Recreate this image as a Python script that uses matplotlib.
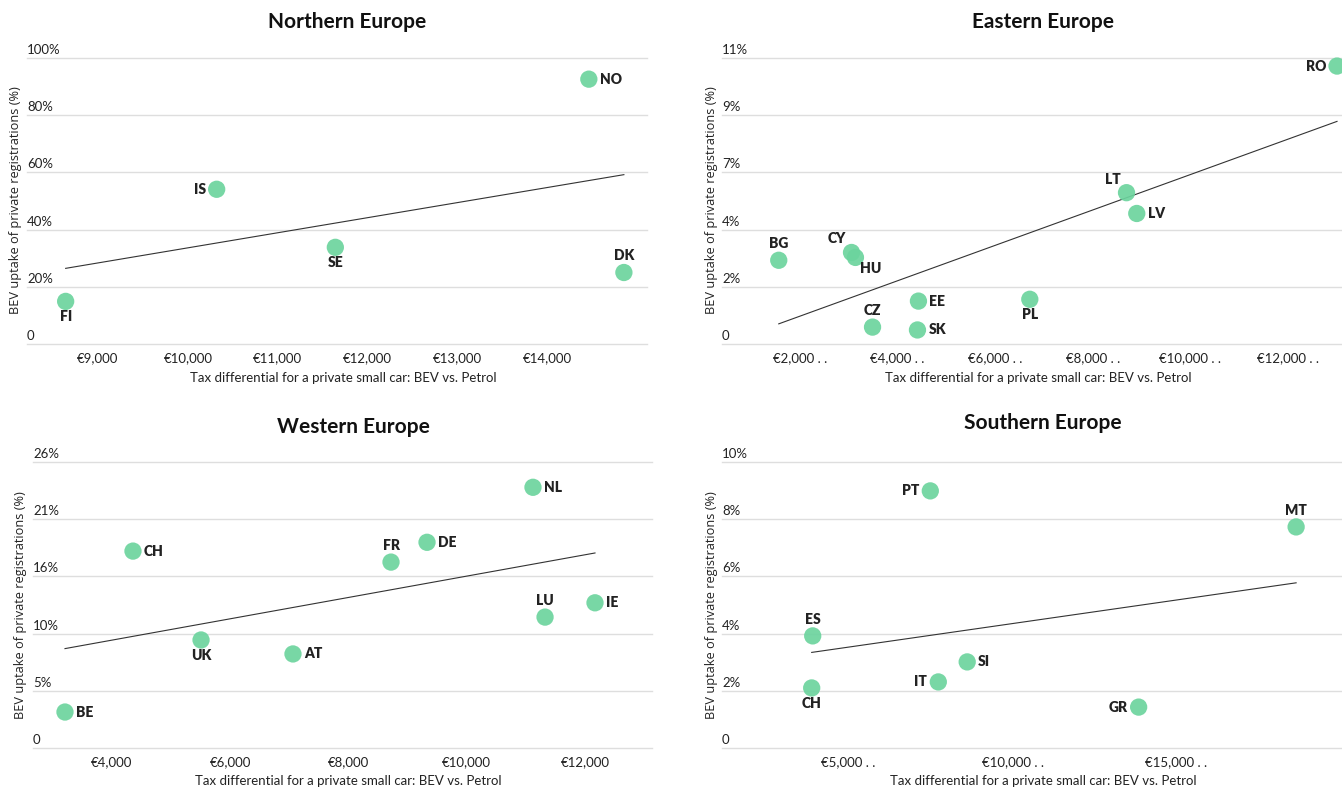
import matplotlib
matplotlib.use('Agg')
import matplotlib.pyplot as plt
import numpy as np
from matplotlib.transforms import blended_transform_factory

# ---------------- data ----------------
north_codes = ['FI', 'IS', 'SE', 'NO', 'DK']
north_tax = [8640, 10320, 11640, 14460, 14850]
north_bev = [14.9, 54.1, 33.8, 92.6, 25.0]
north_yticks = [0, 20, 40, 60, 80, 100]
north_ylabels = ['0', '20%', '40%', '60%', '80%', '100%']
north_xticks = [9000, 10000, 11000, 12000, 13000, 14000]
north_xlabels = ['€9,000', '€10,000', '€11,000', '€12,000', '€13,000', '€14,000']

east_codes = ['BG', 'CY', 'HU', 'CZ', 'EE', 'SK', 'PL', 'LT', 'LV', 'RO']
east_tax = [1570, 3060, 3140, 3490, 4430, 4410, 6710, 8690, 8900, 13000]
east_bev = [3.22, 3.52, 3.33, 0.65, 1.65, 0.54, 1.72, 5.82, 5.02, 10.69]
east_yticks = [0, 2.2, 4.4, 6.6, 8.8, 11]
east_ylabels = ['0', '2%', '4%', '7%', '9%', '11%']
east_xticks = [2000, 4000, 6000, 8000, 10000, 12000]
east_xlabels = ['€2,000 . .', '€4,000 . .', '€6,000 . .', '€8,000 . .', '€10,000 . .', '€12,000 . .']

west_codes = ['BE', 'CH', 'UK', 'AT', 'FR', 'DE', 'NL', 'LU', 'IE']
west_tax = [3205, 4355, 5506, 7061, 8719, 9328, 11120, 11324, 12169]
west_bev = [3.27, 17.9, 9.82, 8.55, 16.9, 18.7, 23.7, 11.9, 13.2]
west_yticks = [0, 5.2, 10.4, 15.6, 20.8, 26]
west_ylabels = ['0', '5%', '10%', '16%', '21%', '26%']
west_xticks = [4000, 6000, 8000, 10000, 12000]
west_xlabels = ['€4,000', '€6,000', '€8,000', '€10,000', '€12,000']

south_codes = ['PT', 'MT', 'ES', 'SI', 'IT', 'CH', 'GR']
south_tax = [7492, 18647, 3906, 8617, 7736, 3875, 13845]
south_bev = [8.99, 7.73, 3.92, 3.01, 2.31, 2.10, 1.43]
south_yticks = [0, 2, 4, 6, 8, 10]
south_ylabels = ['0', '2%', '4%', '6%', '8%', '10%']
south_xticks = [5000, 10000, 15000]
south_xlabels = ['€5,000 . .', '€10,000 . .', '€15,000 . .']

x_title = 'Tax differential for a private small car: BEV vs. Petrol'
y_title = 'BEV uptake of private registrations (%)'

# label placement (style, not data)
north_pos = ['b', 'l', 'b', 'r', 't']
east_pos = ['t', 'tl', 'br', 't', 'r', 'r', 'b', 'tl', 'r', 'l']
west_pos = ['r', 'r', 'b', 'r', 't', 'r', 'r', 't', 'r']
south_pos = ['l', 't', 't', 'r', 'l', 'b', 'l']

# ---------------- styling ----------------
W, H = 1342, 790
fig = plt.figure(figsize=(W / 100, H / 100), dpi=100)
fig.patch.set_facecolor('white')

GREEN = '#6cd49e'
TXT = '#222222'
GRID = '#dedede'
TICKFONT = 'Lato'

offsets = {
    'r': (11, 0, 'left', 'center'),
    'l': (-11, 0, 'right', 'center'),
    't': (0, 10, 'center', 'bottom'),
    'b': (0, -9, 'center', 'top'),
    'tl': (-6, 7, 'right', 'bottom'),
    'br': (5, -5, 'left', 'top'),
}


def panel(box, xlim, codes, tax, bev, pos, yticks, ylabels, xticks, xlabels,
          title, title_xy, xlab_xy, ylab_xy):
    l, r, t, b = box
    ax = fig.add_axes([l / W, 1 - b / H, (r - l) / W, (b - t) / H])
    ax.set_xlim(*xlim)
    ax.set_ylim(yticks[0], yticks[-1])
    for s in ax.spines.values():
        s.set_visible(False)
    ax.set_yticks([])
    for yv in yticks:
        ax.axhline(yv, color=GRID, lw=1.0, zorder=0, clip_on=False)
    trans = blended_transform_factory(ax.transAxes, ax.transData)
    for yv, lab in zip(yticks, ylabels):
        ax.annotate(lab, xy=(0, yv), xycoords=trans, xytext=(0, 2),
                    textcoords='offset pixels', ha='left', va='bottom',
                    fontsize=9.5, color=TXT, family=TICKFONT)
    ax.set_xticks(xticks)
    ax.set_xticklabels(xlabels, fontsize=9.5, color=TXT, family=TICKFONT)
    ax.tick_params(axis='x', length=0, pad=6)
    # trendline (OLS)
    xs = np.array(tax, dtype=float)
    ys = np.array(bev, dtype=float)
    k, c = np.polyfit(xs, ys, 1)
    xl = np.array([xs.min(), xs.max()])
    ax.plot(xl, k * xl + c, color='#333333', lw=0.8, zorder=2)
    ax.scatter(xs, ys, s=155, color=GREEN, alpha=0.92, edgecolors='none',
               zorder=3, clip_on=False)
    for code, xv, yv, p in zip(codes, tax, bev, pos):
        dx, dy, ha, va = offsets[p]
        ax.annotate(code, xy=(xv, yv), xytext=(dx, dy),
                    textcoords='offset pixels', ha=ha, va=va,
                    fontsize=10, fontweight='heavy', color=TXT,
                    family=TICKFONT, zorder=4)
    fig.text(title_xy[0] / W, 1 - title_xy[1] / H, title, ha='center',
             va='center', fontsize=15, fontweight='bold', color='#111111',
             family=TICKFONT)
    fig.text(xlab_xy[0] / W, 1 - xlab_xy[1] / H, x_title, ha='center',
             va='center', fontsize=9.5, color=TXT, family=TICKFONT)
    fig.text(ylab_xy[0] / W, 1 - ylab_xy[1] / H, y_title, ha='center',
             va='center', rotation=90, fontsize=9.2, color=TXT,
             family='Open Sans')
    return ax


panel((27, 647, 58, 344), (8210, 15107), north_codes, north_tax, north_bev,
      north_pos, north_yticks, north_ylabels, north_xticks, north_xlabels,
      'Northern Europe', (347, 22), (343, 378), (16, 200))
panel((722, 1342, 58, 344), (408, 13102), east_codes, east_tax, east_bev,
      east_pos, east_yticks, east_ylabels, east_xticks, east_xlabels,
      'Eastern Europe', (1043, 22), (1038, 378), (711, 200))
panel((33, 652, 462, 748), (2664, 13133), west_codes, west_tax, west_bev,
      west_pos, west_yticks, west_ylabels, west_xticks, west_xlabels,
      'Western Europe', (353, 427), (348, 781), (21, 605))
panel((722, 1342, 462, 748), (1140, 20046), south_codes, south_tax, south_bev,
      south_pos, south_yticks, south_ylabels, south_xticks, south_xlabels,
      'Southern Europe', (1043, 423), (1043, 781), (711, 605))

fig.savefig('out.png', dpi=100, facecolor='white')
